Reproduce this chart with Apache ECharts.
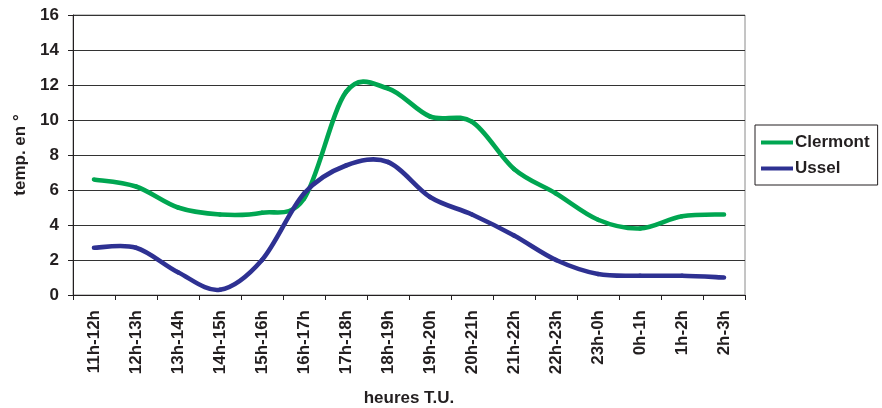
<!DOCTYPE html>
<html>
<head>
<meta charset="utf-8">
<script src="https://cdn.jsdelivr.net/npm/echarts@6/dist/echarts.min.js"></script>
<style>
  html, body { margin: 0; padding: 0; background: #fff; }
  #chart { width: 882px; height: 408px; }
</style>
</head>
<body>
<div id="chart"></div>
<script>
// Hourly temperatures (°C), UT hours
const hours = ['11h-12h', '12h-13h', '13h-14h', '14h-15h', '15h-16h', '16h-17h', '17h-18h', '18h-19h',
               '19h-20h', '20h-21h', '21h-22h', '22h-23h', '23h-0h', '0h-1h', '1h-2h', '2h-3h'];
const clermont = [6.6, 6.2, 5.0, 4.6, 4.7, 5.5, 11.6, 11.8, 10.2, 9.9, 7.2, 5.8, 4.3, 3.8, 4.5, 4.6];
const ussel    = [2.7, 2.7, 1.3, 0.3, 2.0, 5.8, 7.4, 7.6, 5.6, 4.6, 3.4, 2.0, 1.2, 1.1, 1.1, 1.0];
const yTicks = { min: 0, max: 16, step: 2 };

const FONT = 'Liberation Sans, Arial, sans-serif';
const INK = '#231f20';

// Smoothed line (cardinal spline through every point), one Bezier piece per interval,
// positioned with the chart's own coordinate system.
function splineSeries(name, values, color) {
  const last = values.length - 1;
  return {
    name: name,
    type: 'custom',
    coordinateSystem: 'cartesian2d',
    color: color,
    itemStyle: { color: color },
    data: values.map((v, i) => [i, v]),
    encode: { x: 0, y: 1 },
    clip: false,
    silent: true,
    renderItem: function (params, api) {
      const i = params.dataIndex;
      if (i >= last) return null;
      const pt = k => {
        const j = Math.max(0, Math.min(last, k));
        return api.coord([j, values[j]]);
      };
      const p0 = pt(i - 1), p1 = pt(i), p2 = pt(i + 1), p3 = pt(i + 2);
      const t = 1 / 6;
      return {
        type: 'bezierCurve',
        shape: {
          x1: p1[0], y1: p1[1], x2: p2[0], y2: p2[1],
          cpx1: p1[0] + (p2[0] - p0[0]) * t, cpy1: p1[1] + (p2[1] - p0[1]) * t,
          cpx2: p2[0] - (p3[0] - p1[0]) * t, cpy2: p2[1] - (p3[1] - p1[1]) * t
        },
        style: { stroke: color, lineWidth: 4.6, fill: null, lineCap: 'round', lineJoin: 'round' }
      };
    }
  };
}

const chart = echarts.init(document.getElementById('chart'), null, { renderer: 'canvas' });

chart.setOption({
  animation: false,
  backgroundColor: '#fff',
  textStyle: { fontFamily: FONT },
  grid: {
    left: 73, right: 137, top: 15, bottom: 113,
    containLabel: false,
    outerBoundsMode: 'none',
    show: true, borderColor: '#8a8a8a', borderWidth: 1, backgroundColor: 'transparent'
  },
  legend: {
    orient: 'vertical',
    left: 755, top: 125,
    padding: [9, 8, 8, 6],
    itemGap: 9,
    itemWidth: 32, itemHeight: 4,
    icon: 'rect',
    borderColor: INK, borderWidth: 1,
    textStyle: { fontFamily: FONT, fontSize: 17, fontWeight: 'bold', color: INK, lineHeight: 17, padding: [0, 0, 0, -3] },
    data: ['Clermont', 'Ussel']
  },
  xAxis: {
    type: 'category',
    data: hours,
    boundaryGap: true,
    name: 'heures T.U.',
    nameLocation: 'middle',
    nameGap: 95,
    nameTextStyle: { fontFamily: FONT, fontSize: 17, fontWeight: 'bold', color: INK },
    axisLine: { lineStyle: { color: INK, width: 1 } },
    axisTick: { show: true, length: 5, inside: false, lineStyle: { color: INK } },
    axisLabel: {
      rotate: 90, margin: 15, interval: 0,
      fontFamily: FONT, fontSize: 17, fontWeight: 'bold', color: INK
    },
    splitLine: { show: false }
  },
  yAxis: {
    type: 'value',
    min: yTicks.min, max: yTicks.max, interval: yTicks.step,
    name: 'temp. en °',
    nameLocation: 'middle',
    nameRotate: 90,
    nameGap: 43,
    nameTextStyle: { fontFamily: FONT, fontSize: 17, fontWeight: 'bold', color: INK },
    axisLine: { show: true, lineStyle: { color: INK, width: 1 } },
    axisTick: { show: true, length: 5, lineStyle: { color: INK } },
    axisLabel: { margin: 14, fontFamily: FONT, fontSize: 17, fontWeight: 'bold', color: INK },
    splitLine: { show: true, lineStyle: { color: '#333', width: 1 } }
  },
  series: [
    splineSeries('Clermont', clermont, '#00a651'),
    splineSeries('Ussel', ussel, '#2e3192')
  ]
});
</script>
</body>
</html>
